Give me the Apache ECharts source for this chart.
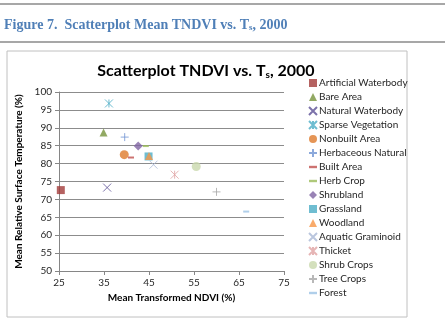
<!DOCTYPE html>
<html>
<head>
<meta charset="utf-8">
<script src="https://cdn.jsdelivr.net/npm/echarts@6/dist/echarts.min.js"></script>
<style>
  html, body { margin: 0; padding: 0; background: #fff; }
  #chart { width: 445px; height: 320px; }
</style>
</head>
<body>
<div id="chart"></div>
<script>
// land cover classes, in legend order
var classNames = ['Artificial Waterbody', 'Bare Area', 'Natural Waterbody', 'Sparse Vegetation',
  'Nonbuilt Area', 'Herbaceous Natural', 'Built Area', 'Herb Crop', 'Shrubland', 'Grassland',
  'Woodland', 'Aquatic Graminoid', 'Thicket', 'Shrub Crops', 'Tree Crops', 'Forest'];
// mean transformed NDVI (%)
var tndvi = [25.4, 34.9, 35.7, 36.1, 39.5, 39.6, 41.0, 44.3, 42.6, 44.9, 45.0, 46.0, 50.7, 55.5, 60.0, 66.6];
// mean relative surface temperature (%)
var tsRel = [72.6, 88.7, 73.3, 96.8, 82.5, 87.4, 81.7, 84.9, 84.9, 82.0, 82.1, 79.7, 76.9, 79.2, 72.1, 66.6];
var xTicks = [25, 35, 45, 55, 65, 75];
var yTicks = [50, 55, 60, 65, 70, 75, 80, 85, 90, 95, 100];

// marker look per series
var markColors = ['#A33B39', '#77933C', '#5B4F95', '#4BACC6', '#DE7B2C', '#6F93D2', '#C0504D', '#9BBB59',
  '#8064A2', '#4BACC6', '#F79646', '#A9B8D6', '#E0A3A2', '#C9D8AC', '#A6A6A6', '#9CC3E5'];
var X_PATH = 'path://M0,0L10,10M10,0L0,10';
var STAR_PATH = 'path://M0,0L10,10M10,0L0,10M5,0L5,10';
var PLUS_PATH = 'path://M5,0L5,10M0,5L10,5';
var DASH_PATH = 'path://M0,0h10v3h-10z';
var markShapes = ['rect', 'triangle', X_PATH, STAR_PATH, 'circle', PLUS_PATH, DASH_PATH, DASH_PATH,
  'diamond', 'rect', 'triangle', X_PATH, STAR_PATH, 'circle', PLUS_PATH, DASH_PATH];
var strokeOnly = [false, false, true, true, false, true, false, false, false, false, false, true, true, false, true, false];

function markSize(i) {
  if (markShapes[i] === DASH_PATH) return [6, 2];
  if (markShapes[i] === 'circle') return 9;
  if (markShapes[i] === 'diamond') return 9;
  return 8;
}

var series = classNames.map(function (name, i) {
  return {
    name: name,
    type: 'scatter',
    symbol: markShapes[i],
    symbolSize: markSize(i),
    itemStyle: strokeOnly[i]
      ? { color: 'transparent', borderColor: markColors[i], borderWidth: 1 }
      : { color: markColors[i] },
    data: [[tndvi[i], tsRel[i]]]
  };
});

var myChart = echarts.init(document.getElementById('chart'));
var font = 'Lato, "Open Sans", sans-serif';
var option = {
  animation: false,
  textStyle: { fontFamily: font },
  graphic: [
    { type: 'line', shape: { x1: 0, y1: 4, x2: 445, y2: 4 }, style: { stroke: '#8a8a8a', lineWidth: 1.5 } },
    { type: 'line', shape: { x1: 0, y1: 42, x2: 445, y2: 42 }, style: { stroke: '#8a8a8a', lineWidth: 1.5 } },
    { type: 'rect', shape: { x: 7, y: 51, width: 400, height: 266 },
      style: { fill: 'transparent', stroke: '#c0c0c0', lineWidth: 1 } },
    { type: 'text', left: 4, top: 18,
      style: {
        text: '{a|Figure 7.  Scatterplot Mean TNDVI vs. T}{s|s}{a|, 2000}',
        rich: {
          a: { fontFamily: '"Liberation Serif", serif', fontWeight: 'bold', fontSize: 14, fill: '#4F7FB7' },
          s: { fontFamily: '"Liberation Serif", serif', fontWeight: 'bold', fontSize: 9, fill: '#4F7FB7', padding: [6, 0, 0, 0] }
        }
      } },
    { type: 'text', x: 206, y: 62,
      style: {
        text: '{a|Scatterplot TNDVI vs. T}{s|s}{a|, 2000}',
        align: 'center',
        rich: {
          a: { fontFamily: font, fontWeight: 'bold', fontSize: 16, fill: '#000' },
          s: { fontFamily: font, fontWeight: 'bold', fontSize: 10, fill: '#000', padding: [8, 0, 0, 0] }
        }
      } }
  ],
  legend: {
    orient: 'vertical',
    left: 303,
    top: 71,
    itemWidth: 8,
    itemHeight: 8,
    itemGap: 0,
    symbolKeepAspect: true,
    textStyle: { fontSize: 10, color: '#262626', lineHeight: 14, padding: [0, 0, 0, -3] },
    data: classNames
  },
  grid: { left: 59, right: 161, top: 92, bottom: 49 },
  xAxis: {
    type: 'value',
    min: xTicks[0],
    max: xTicks[xTicks.length - 1],
    interval: 10,
    name: 'Mean Transformed NDVI (%)',
    nameLocation: 'middle',
    nameGap: 22,
    nameTextStyle: { fontWeight: 'bold', fontSize: 10, color: '#000' },
    axisLine: { lineStyle: { color: '#868686' } },
    axisTick: { show: true, length: 4, lineStyle: { color: '#868686' } },
    axisLabel: { fontSize: 10, color: '#262626', margin: 7 },
    splitLine: { show: false }
  },
  yAxis: {
    type: 'value',
    min: yTicks[0],
    max: yTicks[yTicks.length - 1],
    interval: 5,
    name: 'Mean Relative Surface Temperature (%)',
    nameLocation: 'middle',
    nameGap: 27,
    nameTextStyle: { fontWeight: 'bold', fontSize: 10, color: '#000' },
    axisLine: { show: true, lineStyle: { color: '#868686' } },
    axisTick: { show: true, length: 4, lineStyle: { color: '#868686' } },
    axisLabel: { fontSize: 10, color: '#262626', margin: 7 },
    splitLine: { lineStyle: { color: '#8c8c8c' } }
  },
  series: series
};
myChart.setOption(option);
</script>
</body>
</html>
